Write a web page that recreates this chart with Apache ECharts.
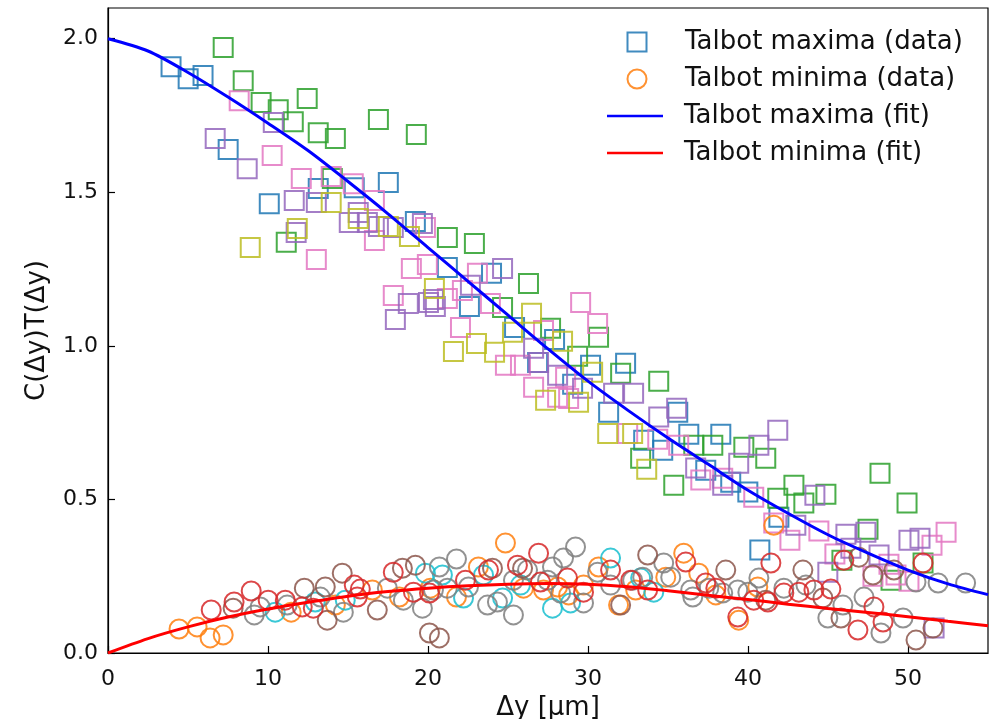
<!DOCTYPE html>
<html><head><meta charset="utf-8">
<script src="https://cdn.jsdelivr.net/npm/echarts@6/dist/echarts.min.js"></script>
<style>html,body{margin:0;padding:0;background:#fff}#c{width:997px;height:719px}</style>
</head><body><div id="c"></div>
<script>
// ---- Talbot maxima data (squares), one array per colour group ----
const maxBlue = [[3.94,1.909],[5.01,1.870],[5.94,1.880],[7.51,1.639],[10.08,1.463],[13.14,1.512],[15.39,1.515],[17.52,1.532],[19.21,1.405],[21.21,1.255],[23.97,1.236],[22.59,1.128],[25.41,1.060],[27.91,1.021],[26.85,0.946],[29.04,0.875],[30.16,0.937],[32.35,0.943],[31.29,0.784],[33.48,0.693],[34.67,0.660],[35.61,0.784],[36.30,0.712],[38.30,0.712],[37.36,0.595],[38.92,0.556],[39.99,0.524],[41.93,0.442],[40.74,0.335]];
const maxGreen = [[7.20,1.971],[8.45,1.863],[9.57,1.792],[10.64,1.769],[12.45,1.805],[11.58,1.730],[13.14,1.694],[14.21,1.675],[14.02,1.545],[11.14,1.337],[16.90,1.737],[19.27,1.688],[21.21,1.353],[22.90,1.333],[26.28,1.203],[24.66,1.125],[27.66,1.057],[29.35,0.966],[30.66,1.028],[32.04,0.911],[34.42,0.885],[33.29,0.634],[35.36,0.546],[36.61,0.676],[37.80,0.676],[39.74,0.670],[41.11,0.634],[41.86,0.504],[42.87,0.546],[43.49,0.488],[44.87,0.517],[48.25,0.585],[49.94,0.488],[45.87,0.302],[47.50,0.403],[50.94,0.293],[48.94,0.237]];
const maxPink = [[8.20,1.798],[10.26,1.620],[12.08,1.545],[13.95,1.551],[15.33,1.528],[13.02,1.281],[16.65,1.473],[19.84,1.385],[16.65,1.343],[18.96,1.252],[19.96,1.265],[17.83,1.164],[22.03,1.060],[21.21,1.154],[22.15,1.180],[23.09,1.236],[23.90,1.138],[29.54,1.141],[30.60,1.073],[24.84,0.937],[25.78,0.937],[26.60,0.865],[28.10,0.833],[28.79,0.829],[27.22,1.050],[28.60,0.898],[32.48,0.715],[34.36,0.696],[35.67,0.676],[37.05,0.563],[38.42,0.569],[40.36,0.507],[41.61,0.423],[42.62,0.367],[44.43,0.397],[45.43,0.322],[47.81,0.250],[48.81,0.289],[49.25,0.254],[50.06,0.234],[51.50,0.351],[52.38,0.393]];
const maxPurple = [[6.70,1.675],[8.70,1.577],[10.33,1.727],[11.64,1.473],[13.02,1.467],[11.76,1.369],[15.64,1.434],[15.08,1.402],[16.21,1.402],[16.90,1.389],[17.83,1.385],[19.65,1.398],[18.77,1.138],[17.96,1.086],[20.03,1.141],[20.34,1.151],[20.46,1.128],[22.65,1.197],[24.66,1.252],[26.60,0.992],[26.91,0.946],[28.10,0.904],[29.66,0.862],[31.60,0.846],[32.85,0.846],[34.42,0.768],[35.54,0.797],[39.42,0.618],[36.73,0.602],[38.42,0.546],[40.68,0.676],[41.86,0.725],[42.99,0.416],[44.18,0.514],[46.12,0.387],[47.37,0.393],[50.06,0.367],[50.75,0.374],[46.43,0.341],[48.19,0.319],[44.99,0.263],[51.63,0.081]];
const maxOlive = [[8.89,1.320],[11.83,1.382],[13.95,1.467],[15.64,1.415],[17.52,1.389],[18.84,1.356],[20.40,1.187],[26.47,1.106],[25.28,1.044],[28.41,1.015],[24.16,0.979],[21.59,0.982],[23.03,1.008],[27.35,0.823],[29.41,0.816],[30.29,0.914],[31.23,0.715],[32.79,0.715],[33.67,0.598]];

// ---- Talbot minima data (circles) ----
const minOrange = [[4.44,0.078],[5.57,0.085],[6.38,0.049],[7.20,0.059],[11.45,0.133],[14.21,0.156],[16.52,0.205],[18.21,0.182],[20.15,0.211],[21.78,0.182],[23.15,0.280],[24.84,0.358],[25.97,0.211],[27.22,0.205],[28.10,0.215],[28.79,0.189],[29.72,0.221],[30.66,0.280],[31.91,0.156],[32.98,0.205],[34.86,0.247],[35.98,0.325],[36.92,0.260],[37.99,0.189],[40.61,0.215],[39.42,0.107],[41.61,0.416]];
const minCyan = [[10.45,0.133],[12.95,0.166],[14.83,0.172],[19.84,0.260],[20.90,0.254],[22.22,0.179],[23.47,0.254],[24.66,0.179],[25.78,0.221],[27.78,0.146],[28.91,0.163],[31.41,0.309],[33.29,0.244],[34.11,0.198]];
const minGray = [[9.14,0.124],[9.51,0.150],[11.20,0.156],[13.27,0.182],[14.71,0.133],[17.46,0.211],[18.46,0.172],[19.65,0.146],[20.34,0.205],[20.71,0.280],[21.21,0.211],[21.78,0.306],[22.53,0.215],[23.72,0.156],[24.34,0.166],[25.34,0.124],[25.34,0.237],[26.22,0.270],[27.47,0.237],[27.78,0.280],[28.47,0.309],[29.22,0.345],[28.29,0.195],[29.72,0.163],[30.60,0.263],[31.41,0.221],[32.79,0.237],[33.42,0.247],[34.73,0.293],[35.17,0.247],[36.42,0.205],[36.55,0.182],[37.55,0.211],[38.42,0.195],[39.36,0.205],[39.99,0.198],[40.68,0.244],[42.24,0.211],[43.62,0.221],[45.93,0.156],[44.99,0.114],[47.25,0.182],[48.31,0.065],[49.69,0.114],[50.50,0.231],[51.88,0.228],[53.60,0.228]];
const minBrown = [[7.82,0.146],[12.27,0.211],[13.58,0.215],[13.70,0.107],[14.64,0.260],[16.83,0.140],[18.40,0.276],[19.21,0.286],[20.09,0.065],[20.71,0.049],[24.03,0.276],[25.91,0.276],[32.04,0.156],[33.73,0.319],[38.61,0.270],[41.11,0.172],[43.43,0.270],[44.68,0.179],[45.81,0.114],[46.93,0.312],[47.81,0.254],[49.12,0.270],[51.56,0.081],[50.50,0.042]];
const minRed = [[6.45,0.140],[7.88,0.166],[8.95,0.202],[10.01,0.172],[11.08,0.172],[12.14,0.150],[12.83,0.146],[15.39,0.221],[15.58,0.182],[15.77,0.208],[17.83,0.263],[19.09,0.198],[20.09,0.195],[22.34,0.237],[23.78,0.270],[25.59,0.286],[26.91,0.325],[27.03,0.231],[28.72,0.244],[29.72,0.198],[31.41,0.270],[32.67,0.237],[33.73,0.205],[36.11,0.296],[37.36,0.228],[37.99,0.211],[39.36,0.117],[40.36,0.172],[41.24,0.166],[41.43,0.293],[42.24,0.195],[43.18,0.198],[44.12,0.205],[45.18,0.208],[45.99,0.302],[46.87,0.075],[47.87,0.150],[48.44,0.101],[50.94,0.293]];

// ---- Fit curves ----
const fitX = [0,2.5,5,7.5,10,12.5,15,17.5,20,22.5,25,27.5,30,32.5,35,37.5,40,42.5,45,47.5,50,52.5,55];
const fitMax = [2.000,1.960,1.890,1.810,1.725,1.636,1.535,1.430,1.320,1.210,1.100,0.990,0.885,0.790,0.700,0.615,0.530,0.455,0.385,0.325,0.270,0.225,0.190];
const fitMin = [0.000,0.047,0.085,0.117,0.143,0.165,0.185,0.200,0.211,0.219,0.224,0.226,0.224,0.216,0.203,0.188,0.174,0.159,0.145,0.132,0.118,0.103,0.089];

// ---- axes ----
const xTicks = [0,10,20,30,40,50];
const yTicks = [0.0,0.5,1.0,1.5,2.0];

const FONT = 'DejaVu Sans';
const FS_TICK = 22;
const FS_LABEL = 26;
const TXT = '#111';
const LEGEND_MAX_DATA = 'Talbot maxima (data)';
const LEGEND_MIN_DATA = 'Talbot minima (data)';
const LEGEND_MAX_FIT = 'Talbot maxima (fit)';
const LEGEND_MIN_FIT = 'Talbot minima (fit)';

function scatter(name, data, color, symbol){
  return {
    type:'scatter', name, data, symbol, symbolSize:19,
    itemStyle:{color:'rgba(0,0,0,0)', borderColor:color, borderWidth:2, opacity:0.85},
    emphasis:{disabled:true}, silent:true, z:2
  };
}
const series = [
  scatter(LEGEND_MAX_DATA, maxBlue, '#1f77b4', 'rect'),
  scatter('max_green', maxGreen, '#2ca02c', 'rect'),
  scatter('max_pink', maxPink, '#e377c2', 'rect'),
  scatter('max_purple', maxPurple, '#9467bd', 'rect'),
  scatter('max_olive', maxOlive, '#bcbd22', 'rect'),
  scatter(LEGEND_MIN_DATA, minOrange, '#ff7f0e', 'circle'),
  scatter('min_cyan', minCyan, '#17becf', 'circle'),
  scatter('min_gray', minGray, '#7f7f7f', 'circle'),
  scatter('min_brown', minBrown, '#8c564b', 'circle'),
  scatter('min_red', minRed, '#d62728', 'circle'),
  {type:'line', name:LEGEND_MAX_FIT, data:fitX.map((x,i)=>[x,fitMax[i]]), smooth:0.3, symbol:'none',
   lineStyle:{color:'#0000ff', width:3}, itemStyle:{color:'#0000ff'}, z:5, silent:true},
  {type:'line', name:LEGEND_MIN_FIT, data:fitX.map((x,i)=>[x,fitMin[i]]), smooth:0.3, symbol:'none',
   lineStyle:{color:'#ff0000', width:3}, itemStyle:{color:'#ff0000'}, z:5, silent:true}
];

const chart = echarts.init(document.getElementById('c'), null, {renderer:'canvas'});
chart.setOption({
  animation:false,
  backgroundColor:'#fff',
  textStyle:{fontFamily:FONT},
  grid:{left:108, right:9, top:8, bottom:66, containLabel:false, outerBoundsMode:'none',
        show:true, borderColor:'#000', borderWidth:1.2, backgroundColor:'transparent'},
  legend:[
    {orient:'vertical', left:626.5, top:28, padding:0, itemWidth:19, itemHeight:19, itemGap:9,
     data:[{name:LEGEND_MAX_DATA, icon:'rect'},{name:LEGEND_MIN_DATA, icon:'circle'}],
     textStyle:{fontFamily:FONT, fontSize:FS_LABEL, color:TXT, padding:[0,0,0,33.5], lineHeight:28},
     selectedMode:false},
    {orient:'vertical', left:607, top:102, padding:0, itemWidth:56, itemHeight:2.6, itemGap:9,
     data:[{name:LEGEND_MAX_FIT, icon:'rect', itemStyle:{color:'#0000ff'}},
           {name:LEGEND_MIN_FIT, icon:'rect', itemStyle:{color:'#ff0000'}}],
     textStyle:{fontFamily:FONT, fontSize:FS_LABEL, color:TXT, padding:[0,0,0,16], lineHeight:28},
     selectedMode:false}
  ],
  xAxis:{type:'value', min:0, max:55, interval:10,
    name:'Δy [μm]', nameLocation:'middle', nameGap:33,
    nameTextStyle:{fontFamily:FONT, fontSize:FS_LABEL, color:TXT},
    axisLine:{show:true, onZero:false, lineStyle:{color:'#000', width:1.2}},
    axisTick:{show:true, inside:true, length:7, lineStyle:{color:'#000', width:1.2},
      customValues:xTicks},
    axisLabel:{fontFamily:FONT, fontSize:FS_TICK, color:TXT, margin:15, customValues:xTicks},
    splitLine:{show:false}},
  yAxis:{type:'value', min:0, max:2.1, interval:0.5,
    name:'C(Δy)T(Δy)', nameLocation:'middle', nameGap:58, nameRotate:90,
    nameTextStyle:{fontFamily:FONT, fontSize:FS_LABEL, color:TXT},
    axisLine:{show:true, onZero:false, lineStyle:{color:'#000', width:1.2}},
    axisTick:{show:true, inside:true, length:7, lineStyle:{color:'#000', width:1.2},
      customValues:yTicks},
    axisLabel:{fontFamily:FONT, fontSize:FS_TICK, color:TXT, margin:10, customValues:yTicks,
      formatter:v=>v.toFixed(1)},
    splitLine:{show:false}},
  series
});
</script></body></html>
